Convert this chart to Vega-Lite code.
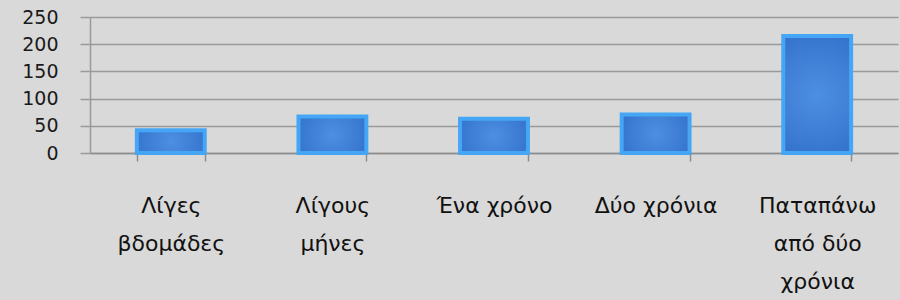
{
  "$schema": "https://vega.github.io/schema/vega-lite/v6.json",
  "autosize": "none",
  "width": 808,
  "height": 136,
  "padding": {"left": 90, "top": 17, "right": 2, "bottom": 147},
  "background": "#d9d9d9",
  "config": {
    "view": {"stroke": null},
    "axis": {"labelFont": "DejaVu Sans", "labelColor": "#1a1a1a"}
  },
  "data": {
    "values": [
      {"period": "Λίγες βδομάδες", "count": 42},
      {"period": "Λίγους μήνες", "count": 67},
      {"period": "Ένα χρόνο", "count": 63},
      {"period": "Δύο χρόνια", "count": 71},
      {"period": "Παταπάνω από δύο χρόνια", "count": 215}
    ]
  },
  "mark": {
    "type": "bar",
    "stroke": "#45a6f5",
    "strokeWidth": 4,
    "color": {
      "gradient": "radial",
      "x1": 0.5, "y1": 0.5, "r1": 0,
      "x2": 0.5, "y2": 0.5, "r2": 0.7,
      "stops": [
        {"offset": 0, "color": "#4d8fe2"},
        {"offset": 1, "color": "#2e6cc6"}
      ]
    }
  },
  "encoding": {
    "x": {
      "field": "period",
      "type": "nominal",
      "sort": null,
      "title": null,
      "scale": {"paddingInner": 0.58, "paddingOuter": 0.29},
      "axis": {
        "labelAngle": 0,
        "labelFont": "DejaVu Sans",
        "labelFontSize": 22,
        "labelColor": "#111111",
        "labelLineHeight": 38,
        "labelBaseline": "top",
        "labelPadding": 34,
        "labelLimit": 200,
        "tickBand": "extent",
        "tickSize": 8,
        "tickColor": "#8c8c8c",
        "tickWidth": 1.5,
        "domainColor": "#8c8c8c",
        "domainWidth": 1.5,
        "labelExpr": "datum.value == 'Λίγες βδομάδες' ? ['Λίγες', 'βδομάδες'] : datum.value == 'Λίγους μήνες' ? ['Λίγους', 'μήνες'] : datum.value == 'Παταπάνω από δύο χρόνια' ? ['Παταπάνω', 'από δύο', 'χρόνια'] : datum.value"
      }
    },
    "y": {
      "field": "count",
      "type": "quantitative",
      "title": null,
      "scale": {"domain": [0, 250], "nice": false},
      "axis": {
        "values": [0, 50, 100, 150, 200, 250],
        "labelFontSize": 19,
        "labelPadding": 22,
        "tickSize": 10,
        "tickColor": "#9a9a9a",
        "tickWidth": 1.5,
        "grid": true,
        "gridColor": "#9a9a9a",
        "gridWidth": 1.5,
        "domainColor": "#9a9a9a",
        "domainWidth": 1.5
      }
    }
  }
}
